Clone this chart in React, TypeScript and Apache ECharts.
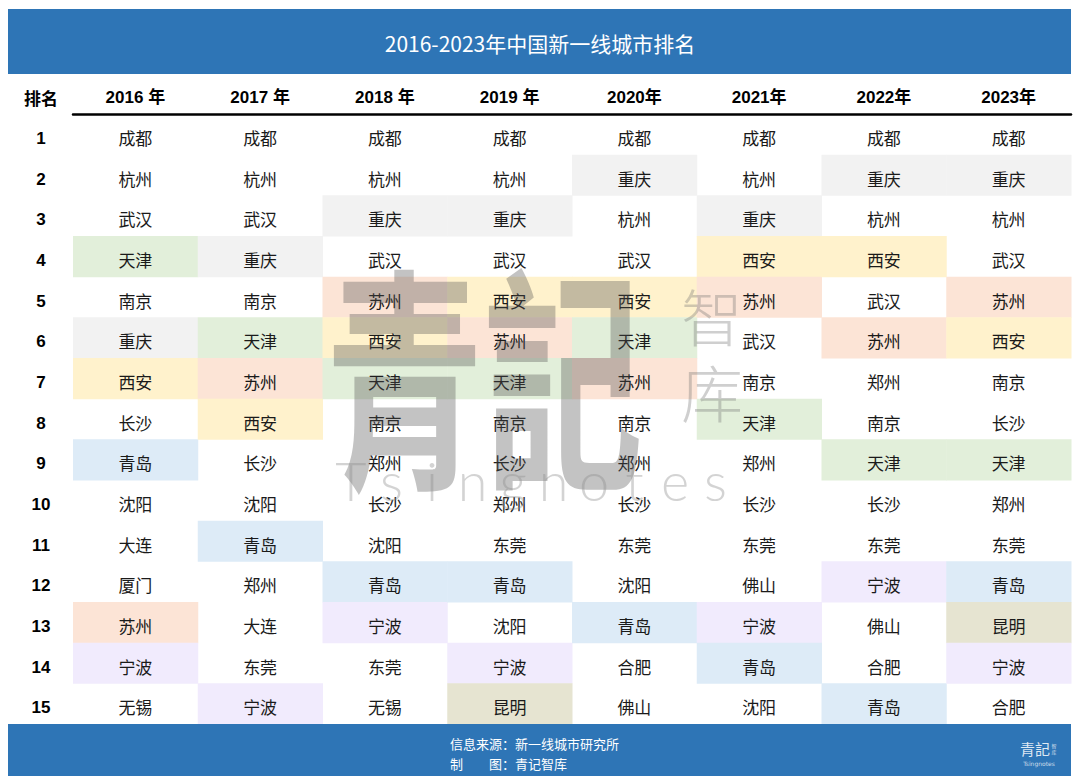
import React, { useEffect, useRef } from "react";
import * as echarts from "echarts";

const title = "2016-2023年中国新一线城市排名";
const rankHeader = "排名";
const years = ["2016 年", "2017 年", "2018 年", "2019 年", "2020年", "2021年", "2022年", "2023年"];
const ranks = ["1", "2", "3", "4", "5", "6", "7", "8", "9", "10", "11", "12", "13", "14", "15"];

const y2016 = ["成都", "杭州", "武汉", "天津", "南京", "重庆", "西安", "长沙", "青岛", "沈阳", "大连", "厦门", "苏州", "宁波", "无锡"];
const y2017 = ["成都", "杭州", "武汉", "重庆", "南京", "天津", "苏州", "西安", "长沙", "沈阳", "青岛", "郑州", "大连", "东莞", "宁波"];
const y2018 = ["成都", "杭州", "重庆", "武汉", "苏州", "西安", "天津", "南京", "郑州", "长沙", "沈阳", "青岛", "宁波", "东莞", "无锡"];
const y2019 = ["成都", "杭州", "重庆", "武汉", "西安", "苏州", "天津", "南京", "长沙", "郑州", "东莞", "青岛", "沈阳", "宁波", "昆明"];
const y2020 = ["成都", "重庆", "杭州", "武汉", "西安", "天津", "苏州", "南京", "郑州", "长沙", "东莞", "沈阳", "青岛", "合肥", "佛山"];
const y2021 = ["成都", "杭州", "重庆", "西安", "苏州", "武汉", "南京", "天津", "郑州", "长沙", "东莞", "佛山", "宁波", "青岛", "沈阳"];
const y2022 = ["成都", "重庆", "杭州", "西安", "武汉", "苏州", "郑州", "南京", "天津", "长沙", "东莞", "宁波", "佛山", "合肥", "青岛"];
const y2023 = ["成都", "重庆", "杭州", "武汉", "苏州", "西安", "南京", "长沙", "天津", "郑州", "东莞", "青岛", "昆明", "宁波", "合肥"];
const columns = [y2016, y2017, y2018, y2019, y2020, y2021, y2022, y2023];

const highlightCities = ["重庆", "天津", "西安", "苏州", "青岛", "宁波", "昆明"];
const highlightColors = ["#f2f2f2", "#e2efda", "#fff2cc", "#fce4d6", "#ddebf7", "#f1ebfd", "#e6e4d1"];

const sourceText = "信息来源：新一线城市研究所";
const makerText = "制　　图：青记智库";
const watermarkLetters = ["T", "s", "i", "n", "g", "n", "o", "t", "e", "s"];

const CJK = "'Noto Sans CJK SC', 'Noto Sans', sans-serif";
const HEAD = "'Liberation Sans', 'Noto Sans CJK SC', sans-serif";

export default function App() {
  const ref = useRef<HTMLDivElement>(null);
  useEffect(() => {
    if (!ref.current) return;
    const chart = echarts.init(ref.current, null, { renderer: "svg" });
    const cells: any[] = [];
    columns.forEach((col, xi) => {
      col.forEach((city, yi) => {
        cells.push([xi, yi, city]);
      });
    });
    const colorOf = (city: string) => {
      const i = highlightCities.indexOf(city);
      return i >= 0 ? highlightColors[i] : null;
    };

    const letterGraphics = watermarkLetters.map((ch, i) => ({
      type: "text",
      z: 100,
      x: 351 + i * 40.5,
      y: 507,
      silent: true,
      style: {
        text: ch,
        fill: "rgba(140,140,140,0.38)",
        font: `300 54px Lato, 'DejaVu Sans', sans-serif`,
        align: "center",
        verticalAlign: "bottom",
      },
    }));

    chart.setOption({
      animation: false,
      backgroundColor: "#ffffff",
      grid: { left: 73, right: 9, top: 114, bottom: 59 },
      xAxis: {
        type: "category",
        data: years,
        position: "top",
        axisLine: { show: true, lineStyle: { color: "#000", width: 2.5 } },
        axisTick: { show: false },
        splitLine: { show: false },
        axisLabel: {
          margin: 17,
          verticalAlign: "middle",
          fontSize: 17,
          fontWeight: "bold",
          color: "#000",
          fontFamily: HEAD,
        },
      },
      yAxis: {
        type: "category",
        data: ranks,
        inverse: true,
        axisLine: { show: false },
        axisTick: { show: false },
        splitLine: { show: false },
        axisLabel: {
          margin: 32,
          align: "center",
          verticalAlign: "top",
          lineHeight: 8,
          fontSize: 17,
          fontWeight: "bold",
          color: "#000",
          fontFamily: HEAD,
        },
      },
      series: [
        {
          type: "custom",
          data: cells,
          z: 1,
          renderItem: (params: any, api: any) => {
            const item = cells[params.dataIndex];
            const c = api.coord([item[0], item[1]]);
            const s = api.size([1, 1]);
            const children: any[] = [];
            const fill = colorOf(item[2]);
            if (fill) {
              children.push({
                type: "rect",
                shape: { x: c[0] - s[0] / 2, y: c[1] - s[1] / 2, width: s[0] + 0.5, height: s[1] + 0.5 },
                style: { fill },
              });
            }
            children.push({
              type: "text",
              x: c[0],
              y: c[1] + 3,
              style: {
                text: item[2],
                fill: "#1a1a1a",
                font: `normal 17px ${CJK}`,
                align: "center",
                verticalAlign: "middle",
              },
            });
            return { type: "group", children };
          },
        },
      ],
      graphic: [
        {
          type: "rect",
          z: 5,
          shape: { x: 8, y: 9, width: 1063, height: 65 },
          style: { fill: "#2e75b6" },
        },
        {
          type: "text",
          z: 6,
          x: 540,
          y: 43,
          style: {
            text: title,
            fill: "#ffffff",
            font: `normal 21px ${CJK}`,
            align: "center",
            verticalAlign: "middle",
          },
        },
        {
          type: "text",
          z: 6,
          x: 41,
          y: 97,
          style: {
            text: rankHeader,
            fill: "#000",
            font: `bold 17px ${CJK}`,
            align: "center",
            verticalAlign: "middle",
          },
        },
        {
          type: "rect",
          z: 5,
          shape: { x: 8, y: 724, width: 1063, height: 52 },
          style: { fill: "#2e75b6" },
        },
        {
          type: "text",
          z: 6,
          x: 450,
          y: 743,
          style: {
            text: sourceText,
            fill: "#ffffff",
            font: `normal 13px 'Noto Sans CJK SC', sans-serif`,
            align: "left",
            verticalAlign: "middle",
          },
        },
        {
          type: "text",
          z: 6,
          x: 450,
          y: 763,
          style: {
            text: makerText,
            fill: "#ffffff",
            font: `normal 13px 'Noto Sans CJK SC', sans-serif`,
            align: "left",
            verticalAlign: "middle",
          },
        },
        {
          type: "text",
          z: 6,
          x: 1035,
          y: 748,
          style: {
            text: "青記",
            fill: "rgba(255,255,255,0.85)",
            font: `normal 15px 'Noto Sans CJK TC', sans-serif`,
            align: "center",
            verticalAlign: "middle",
          },
        },
        {
          type: "text",
          z: 6,
          x: 1054,
          y: 748,
          style: {
            text: "智\n库",
            fill: "rgba(255,255,255,0.8)",
            font: `normal 5px 'Noto Sans CJK SC', sans-serif`,
            lineHeight: 6,
            align: "center",
            verticalAlign: "middle",
          },
        },
        {
          type: "text",
          z: 6,
          x: 1039,
          y: 763,
          style: {
            text: "Tsingnotes",
            fill: "rgba(255,255,255,0.75)",
            font: `normal 6px 'DejaVu Sans', sans-serif`,
            align: "center",
            verticalAlign: "middle",
          },
        },
        {
          type: "text",
          z: 100,
          x: 484,
          y: 368,
          scaleX: 0.74,
          scaleY: 1.1,
          originX: 0,
          originY: 0,
          silent: true,
          style: {
            text: "青記",
            fill: "rgba(80,80,80,0.34)",
            font: `bold 215px 'Noto Sans CJK TC', sans-serif`,
            align: "center",
            verticalAlign: "middle",
          },
        },
        {
          type: "text",
          z: 100,
          x: 712,
          y: 353,
          silent: true,
          style: {
            text: "智\n库",
            fill: "rgba(110,110,110,0.33)",
            font: `300 62px 'Noto Sans CJK SC', sans-serif`,
            lineHeight: 76,
            align: "center",
            verticalAlign: "middle",
          },
        },
        ...letterGraphics,
      ],
    });
    return () => chart.dispose();
  }, []);
  return (
    <div
      ref={ref}
      style={{ position: "absolute", left: 0, top: 0, width: 1080, height: 783 }}
    />
  );
}
